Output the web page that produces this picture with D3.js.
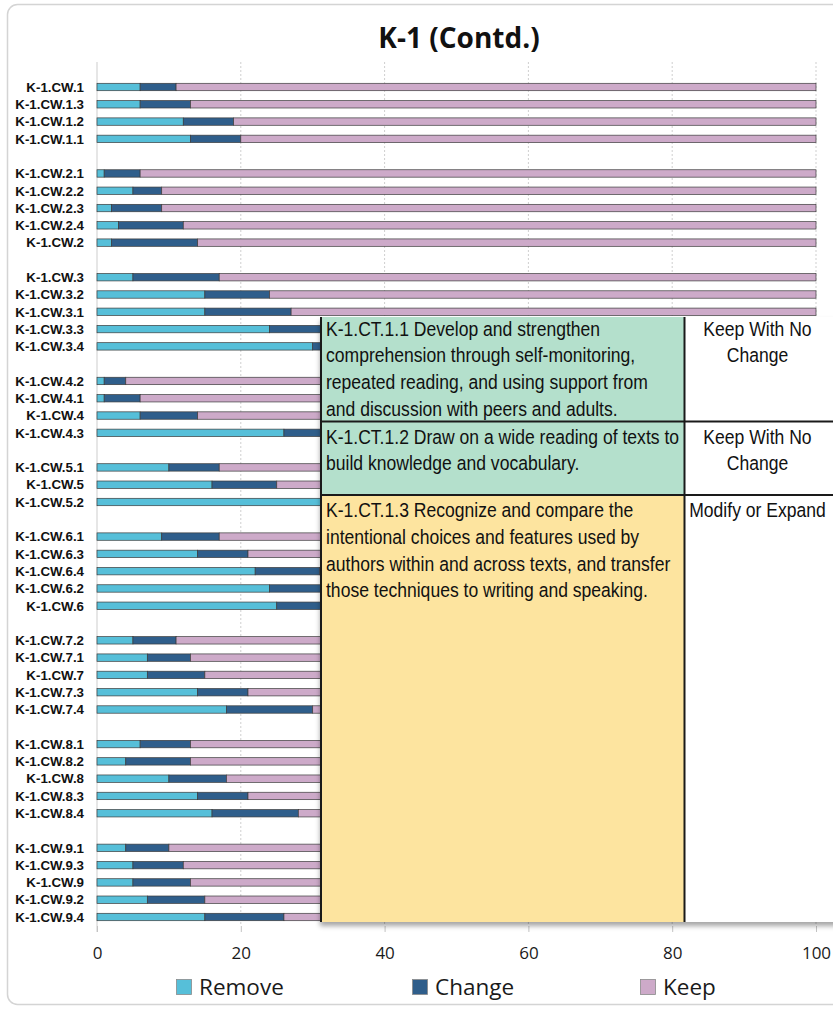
<!DOCTYPE html>
<html>
<head>
<meta charset="utf-8">
<script src="https://cdn.jsdelivr.net/npm/d3@7"></script>
<style>
  html, body { margin: 0; padding: 0; background: #fff; }
  svg { display: block; }
</style>
</head>
<body>
<script>
// ---------- DATA ----------
const categories = [
  "K-1.CW.1","K-1.CW.1.3","K-1.CW.1.2","K-1.CW.1.1",
  "K-1.CW.2.1","K-1.CW.2.2","K-1.CW.2.3","K-1.CW.2.4","K-1.CW.2",
  "K-1.CW.3","K-1.CW.3.2","K-1.CW.3.1","K-1.CW.3.3","K-1.CW.3.4",
  "K-1.CW.4.2","K-1.CW.4.1","K-1.CW.4","K-1.CW.4.3",
  "K-1.CW.5.1","K-1.CW.5","K-1.CW.5.2",
  "K-1.CW.6.1","K-1.CW.6.3","K-1.CW.6.4","K-1.CW.6.2","K-1.CW.6",
  "K-1.CW.7.2","K-1.CW.7.1","K-1.CW.7","K-1.CW.7.3","K-1.CW.7.4",
  "K-1.CW.8.1","K-1.CW.8.2","K-1.CW.8","K-1.CW.8.3","K-1.CW.8.4",
  "K-1.CW.9.1","K-1.CW.9.3","K-1.CW.9","K-1.CW.9.2","K-1.CW.9.4"
];
const groupSizes = [4,5,5,4,3,5,5,5,5];
const removeVals = [6,6,12,13, 1,5,2,3,2, 5,15,15,24,30, 1,1,6,26, 10,16,38, 9,14,22,24,25, 5,7,7,14,18, 6,4,10,14,16, 4,5,5,7,15];
const changeVals = [5,7,7,7, 5,4,7,9,12, 12,9,12,10,8, 3,5,8,8, 7,9,8, 8,7,9,10,10, 6,6,8,7,12, 7,9,8,7,12, 6,7,8,8,11];
const keepVals   = [89,87,81,80, 94,91,91,88,86, 83,76,73,66,62, 96,94,86,66, 83,75,54, 83,79,69,66,65, 89,87,85,79,70, 87,87,82,79,72, 90,88,87,85,74];
const seriesNames = ["Remove","Change","Keep"];
const seriesColors = ["#56bfd9","#2f5e8b","#cdaac9"];
const xTicks = [0,20,40,60,80,100];
const chartTitle = "K-1 (Contd.)";

// overlay table content
const tableRows = [
  { lines: ["K-1.CT.1.1 Develop and strengthen","comprehension through self-monitoring,","repeated reading, and using support from","and discussion with peers and adults."],
    decision: ["Keep With No","Change"], fill: "#b4e0cc" },
  { lines: ["K-1.CT.1.2 Draw on a wide reading of texts to","build knowledge and vocabulary."],
    decision: ["Keep With No","Change"], fill: "#b4e0cc" },
  { lines: ["K-1.CT.1.3 Recognize and compare the","intentional choices and features used by","authors within and across texts, and transfer","those techniques to writing and speaking."],
    decision: ["Modify or Expand"], fill: "#fde49f" }
];

// ---------- BUILD ----------
const W = 833, H = 1011;
const svg = d3.select("body").append("svg").attr("width", W).attr("height", H);
const defs = svg.append("defs");
const f = defs.append("filter").attr("id","tshadow").attr("x","-10%").attr("y","-10%").attr("width","130%").attr("height","130%");
f.append("feDropShadow").attr("dx",-1).attr("dy",4).attr("stdDeviation",2.5).attr("flood-color","#000").attr("flood-opacity",0.35);

svg.append("rect").attr("width",W).attr("height",H).attr("fill","#fff");
// frame
svg.append("rect").attr("x",7.5).attr("y",4.5).attr("width",900).attr("height",1000)
  .attr("rx",10).attr("fill","#fff").attr("stroke","#d4d4d4").attr("stroke-width",1.5);

// title
svg.append("text").attr("x",459).attr("y",48).attr("text-anchor","middle")
  .style("font-family","'Open Sans', sans-serif").style("font-weight","700").style("font-size","28px")
  .attr("fill","#111").text(chartTitle);

// slot domain with gaps
const slots = [];
let idx = 0;
groupSizes.forEach((n, g) => {
  for (let i = 0; i < n; i++) slots.push(categories[idx++]);
  if (g < groupSizes.length - 1) slots.push("__gap" + g);
});
const y = d3.scalePoint().domain(slots).range([87, 917]);
const x = d3.scaleLinear().domain([0, 100]).range([97, 816]);
const plotTop = 62, plotBottom = 926;

// gridlines
svg.append("g").selectAll("line").data(xTicks.filter(d => d > 0)).join("line")
  .attr("x1", d => x(d)).attr("x2", d => x(d)).attr("y1", plotTop).attr("y2", plotBottom)
  .attr("stroke","#cfcfcf").attr("stroke-width",1).attr("stroke-dasharray","2,2");
// y axis line
svg.append("line").attr("x1",x(0)).attr("x2",x(0)).attr("y1",plotTop).attr("y2",plotBottom + 6)
  .attr("stroke","#d6d6d6").attr("stroke-width",1.2);

// x axis
const xAxis = svg.append("g").attr("transform",`translate(0,${plotBottom})`)
  .call(d3.axisBottom(x).tickValues(xTicks).tickSize(6).tickPadding(8));
xAxis.select(".domain").remove();
xAxis.selectAll(".tick line").attr("stroke","#c4c4c4");
xAxis.selectAll(".tick text").attr("y",33).attr("dy",0)
  .style("font-family","'Open Sans', sans-serif").style("font-size","17px").attr("fill","#1a1a1a");

// stacked bars
const rows = categories.map((c, i) => ({ cat: c, Remove: removeVals[i], Change: changeVals[i], Keep: keepVals[i] }));
const stacked = d3.stack().keys(seriesNames)(rows);
const barH = 7.4;
svg.append("g").selectAll("g").data(stacked).join("g")
  .attr("fill", (d, i) => seriesColors[i])
  .selectAll("rect").data(d => d).join("rect")
  .attr("x", d => x(d[0])).attr("width", d => x(d[1]) - x(d[0]))
  .attr("y", d => y(d.data.cat) - barH / 2).attr("height", barH)
  .attr("stroke","#3c3c3c").attr("stroke-width",0.7);

// category labels
svg.append("g").selectAll("text").data(categories).join("text")
  .attr("x", 84).attr("y", d => y(d)).attr("dy","0.36em").attr("text-anchor","end")
  .style("font-family","'Liberation Sans', Arial, sans-serif").style("font-weight","700").style("font-size","13.3px")
  .attr("fill","#111").text(d => d);

// ---------- overlay table ----------
const T = { x: 321, y: 317, right: 845, bottom: 922, col: 684.5, rows: [317, 421.5, 495, 922] };
const tg = svg.append("g");
tg.append("rect").attr("x",T.x).attr("y",T.y).attr("width",T.right - T.x).attr("height",T.bottom - T.y)
  .attr("fill","#fff").attr("filter","url(#tshadow)");
tableRows.forEach((r, i) => {
  tg.append("rect").attr("x",T.x).attr("y",T.rows[i]).attr("width",T.col - T.x).attr("height",T.rows[i+1] - T.rows[i])
    .attr("fill", r.fill);
});
const lh = 26.67;
const sx = 0.9;
tableRows.forEach((r, i) => {
  const base = T.rows[i] + 18.7 + (i === 0 ? 0 : 3.5);
  r.lines.forEach((ln, j) => {
    tg.append("text").attr("transform", `translate(326,${base + j * lh}) scale(${sx},1)`)
      .style("font-family","'Liberation Sans', Arial, sans-serif").style("font-size","19.5px")
      .attr("fill","#111").text(ln);
  });
  r.decision.forEach((ln, j) => {
    tg.append("text").attr("transform", `translate(757.5,${base + j * lh}) scale(${sx},1)`).attr("text-anchor","middle")
      .style("font-family","'Liberation Sans', Arial, sans-serif").style("font-size","19.5px")
      .attr("fill","#111").text(ln);
  });
});
// borders
tg.append("line").attr("x1",T.x).attr("x2",T.x).attr("y1",T.y).attr("y2",T.bottom).attr("stroke","#1a1a1a").attr("stroke-width",2);
tg.append("line").attr("x1",T.col).attr("x2",T.col).attr("y1",T.y).attr("y2",T.bottom).attr("stroke","#1a1a1a").attr("stroke-width",2);
[T.rows[1], T.rows[2]].forEach(yy => {
  tg.append("line").attr("x1",T.x).attr("x2",W).attr("y1",yy).attr("y2",yy).attr("stroke","#1a1a1a").attr("stroke-width",2);
});

// ---------- legend ----------
const legendX = [176, 412, 640];
const lg = svg.append("g");
seriesNames.forEach((s, i) => {
  lg.append("rect").attr("x",legendX[i] + 0.5).attr("y",979.5).attr("width",15).attr("height",15)
    .attr("fill",seriesColors[i]).attr("stroke","#8a8a8a").attr("stroke-width",0.8);
  lg.append("text").attr("x",legendX[i] + 23).attr("y",995)
    .style("font-family","'Open Sans', sans-serif").style("font-size","22.5px").attr("fill","#1a1a1a").text(s);
});
</script>
</body>
</html>
